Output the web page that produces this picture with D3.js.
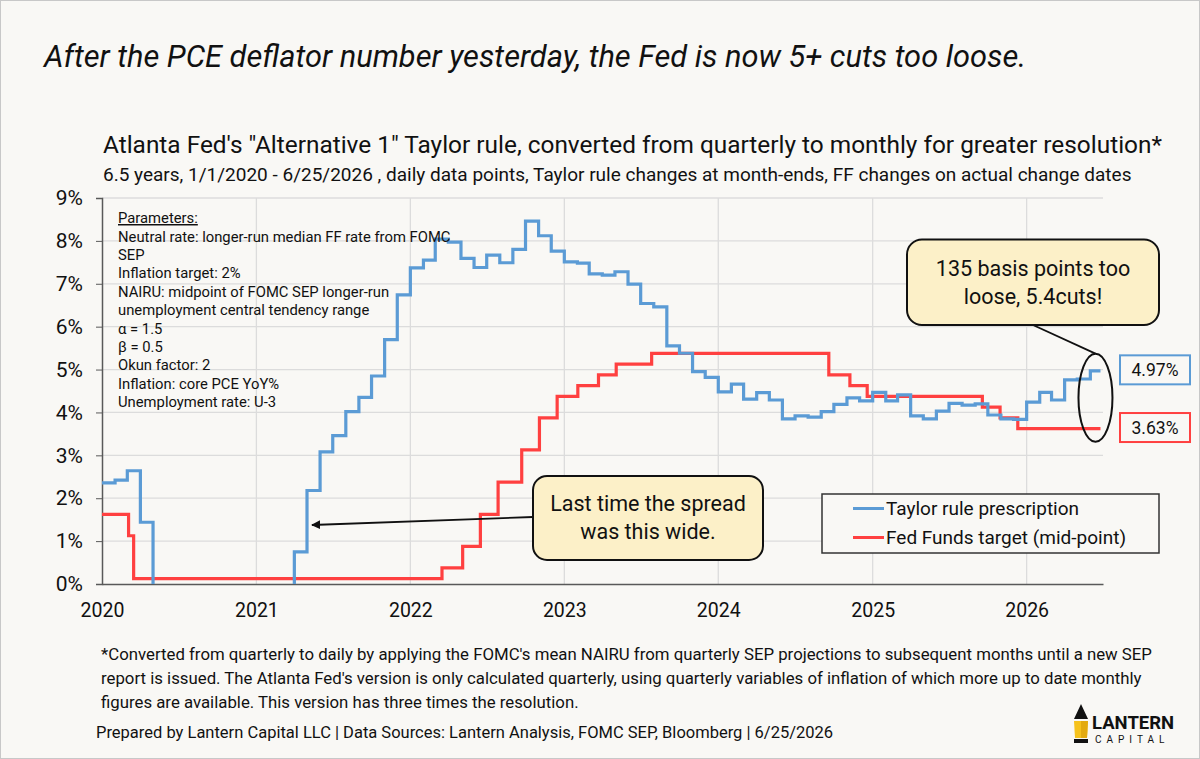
<!DOCTYPE html>
<html>
<head>
<meta charset="utf-8">
<script src="https://d3js.org/d3.v7.min.js"></script>
<style>
  body { margin: 0; background: #f9f8f5; }
  svg { font-family: Roboto, "Liberation Sans", sans-serif; }
</style>
</head>
<body>
<svg id="chart" width="1200" height="759"></svg>
<script>
// Taylor rule prescription, one value per month starting Jan 2020 (values below 0 are off-chart estimates)
const taylorStart = "2020-01-01";
const taylorEnd = "2026-06-25";
const taylorVals = [
  2.36, 2.42, 2.64, 1.44, -1.2, -1.5, -1.6, -1.5, -1.4, -1.3, -1.2, -1.1,
  -0.9, -0.7, -0.4, 0.75, 2.18, 3.08, 3.46, 4.02, 4.35, 4.85, 5.70, 6.74,
  7.37, 7.55, 8.04, 7.97, 7.59, 7.38, 7.67, 7.49, 7.80, 8.46, 8.12, 7.76,
  7.51, 7.48, 7.23, 7.20, 7.28, 6.99, 6.54, 6.46, 5.55, 5.38, 4.95, 4.82,
  4.48, 4.66, 4.31, 4.46, 4.29, 3.85, 3.92, 3.89, 4.02, 4.19, 4.34, 4.27,
  4.47, 4.27, 4.41, 3.92, 3.85, 4.03, 4.21, 4.17, 4.20, 3.94, 3.85, 3.84,
  4.24, 4.47, 4.29, 4.76, 4.78, 4.97
];

// Fed funds target mid-point, on actual change dates
const ffDates = ["2020-01-01","2020-03-04","2020-03-16","2022-03-17","2022-05-05","2022-06-16",
  "2022-07-28","2022-09-22","2022-11-03","2022-12-15","2023-02-02","2023-03-23","2023-05-04",
  "2023-07-27","2024-09-19","2024-11-08","2024-12-19","2025-09-18","2025-10-30","2025-12-11"];
const ffVals = [1.625, 1.125, 0.125, 0.375, 0.875, 1.625, 2.375, 3.125, 3.875, 4.375, 4.625,
  4.875, 5.125, 5.375, 4.875, 4.625, 4.375, 4.125, 3.875, 3.625];

const yTicks = [0, 1, 2, 3, 4, 5, 6, 7, 8, 9];
const seriesNames = ["Taylor rule prescription", "Fed Funds target (mid-point)"];
const seriesColors = ["#5b9bd5", "#ff4040"];
const lastLabels = ["4.97%", "3.63%"];

const paramLines = [
  "Neutral rate: longer-run median FF rate from FOMC",
  "SEP",
  "Inflation target: 2%",
  "NAIRU: midpoint of FOMC SEP longer-run",
  "unemployment central tendency range",
  "α = 1.5",
  "β = 0.5",
  "Okun factor: 2",
  "Inflation: core PCE YoY%",
  "Unemployment rate: U-3"
];
const footLines = [
  "*Converted from quarterly to daily by applying the FOMC's mean NAIRU from quarterly SEP projections to subsequent months until a new SEP",
  "report is issued.  The Atlanta Fed's version is only calculated quarterly, using quarterly variables of inflation of which more up to date monthly",
  "figures are available. This version has three times the resolution."
];

const parse = d3.utcParse("%Y-%m-%d");
const svg = d3.select("#chart");

// frame
svg.append("rect").attr("x", 0.5).attr("y", 0.5).attr("width", 1199).attr("height", 758)
  .attr("fill", "#f9f8f5").attr("stroke", "#c8c8c8");

// titles
svg.append("text").attr("x", 44).attr("y", 67)
  .attr("font-size", 30.8).attr("font-style", "italic").attr("fill", "#111")
  .text("After the PCE deflator number yesterday, the Fed is now 5+ cuts too loose.");
svg.append("text").attr("x", 103).attr("y", 153)
  .attr("font-size", 24.4).attr("fill", "#111")
  .text("Atlanta Fed's \"Alternative 1\" Taylor rule, converted from quarterly to monthly for greater resolution*");
svg.append("text").attr("x", 103).attr("y", 181)
  .attr("font-size", 19).attr("fill", "#111")
  .text("6.5 years, 1/1/2020 - 6/25/2026 , daily data points, Taylor rule changes at month-ends, FF changes on actual change dates");

// scales
const x = d3.scaleUtc().domain([parse("2020-01-01"), parse("2026-07-01")]).range([102, 1103]);
const y = d3.scaleLinear().domain([0, 9]).range([584, 198]);

// gridlines
const grid = svg.append("g").attr("stroke", "#dcdcdc").attr("stroke-width", 1.3);
grid.selectAll("line.h").data(yTicks.slice(1)).join("line").attr("class", "h")
  .attr("x1", 102).attr("x2", 1103).attr("y1", d => y(d)).attr("y2", d => y(d));
grid.selectAll("line.v").data(d3.utcYear.range(parse("2021-01-01"), parse("2026-02-01"))).join("line")
  .attr("class", "v")
  .attr("x1", d => x(d)).attr("x2", d => x(d)).attr("y1", 198).attr("y2", 584);

// axes
const yAxis = svg.append("g").attr("transform", "translate(102,0)")
  .call(d3.axisLeft(y).tickValues(yTicks).tickFormat(d => d + "%").tickSize(6).tickPadding(13));
yAxis.select(".domain").attr("stroke", "#595959").attr("stroke-width", 1.5);
yAxis.selectAll(".tick line").attr("stroke", "#595959");
yAxis.selectAll("text").attr("font-size", 21).attr("fill", "#111").attr("font-family", "Roboto");

const xAxis = svg.append("g").attr("transform", "translate(0,584)")
  .call(d3.axisBottom(x).ticks(d3.utcYear.every(1)).tickFormat(d3.utcFormat("%Y")).tickSize(0).tickPadding(19));
xAxis.select(".domain").attr("stroke", "#595959").attr("stroke-width", 1.5);
xAxis.selectAll("text").attr("font-size", 19.5).attr("fill", "#111").attr("font-family", "Roboto");

// clip to plot area
svg.append("clipPath").attr("id", "plotClip").append("rect")
  .attr("x", 102).attr("y", 190).attr("width", 1010).attr("height", 394);

// series data
const months = d3.utcMonth.range(parse(taylorStart), parse("2026-07-01"));
const taylor = taylorVals.map((v, i) => ({ date: months[i], value: v }));
taylor.push({ date: parse(taylorEnd), value: taylorVals[taylorVals.length - 1] });
const ff = ffVals.map((v, i) => ({ date: parse(ffDates[i]), value: v }));
ff.push({ date: parse(taylorEnd), value: ffVals[ffVals.length - 1] });

const line = d3.line().curve(d3.curveStepAfter).x(d => x(d.date)).y(d => y(d.value));
const plot = svg.append("g").attr("clip-path", "url(#plotClip)");
plot.append("path").datum(ff).attr("d", line).attr("fill", "none")
  .attr("stroke", seriesColors[1]).attr("stroke-width", 3.2);
plot.append("path").datum(taylor).attr("d", line).attr("fill", "none")
  .attr("stroke", seriesColors[0]).attr("stroke-width", 3.2);

// parameters block
const params = svg.append("g").attr("font-size", 14.8).attr("fill", "#111");
params.append("text").attr("x", 118).attr("y", 223).text("Parameters:")
  .attr("text-decoration", "underline");
params.selectAll("text.p").data(paramLines).join("text").attr("class", "p")
  .attr("x", 118).attr("y", (d, i) => 241.5 + i * 18.4).text(d => d);

// last-value labels
const lastVals = [taylorVals[taylorVals.length - 1], ffVals[ffVals.length - 1]];
lastVals.forEach((v, i) => {
  const cy = y(v) - 1;
  svg.append("rect").attr("x", 1120).attr("y", cy - 14.5).attr("width", 70).attr("height", 29)
    .attr("fill", "#f9f8f5").attr("stroke", seriesColors[i]).attr("stroke-width", 2);
  svg.append("text").attr("x", 1155).attr("y", cy + 6).attr("text-anchor", "middle")
    .attr("font-size", 17.5).attr("fill", "#111").text(lastLabels[i]);
});

// ellipse + callout "135 basis points"
const ex = x(parse(taylorEnd)) - 5;
const ey = (y(lastVals[0]) + y(lastVals[1])) / 2 - 2;
svg.append("ellipse").attr("cx", ex).attr("cy", ey).attr("rx", 17).attr("ry", 44)
  .attr("fill", "none").attr("stroke", "#111").attr("stroke-width", 2);
svg.append("line").attr("x1", 1033).attr("y1", 325).attr("x2", ex).attr("y2", ey - 44)
  .attr("stroke", "#111").attr("stroke-width", 1.8);
svg.append("rect").attr("x", 907).attr("y", 239.5).attr("width", 252).attr("height", 85.5)
  .attr("rx", 15).attr("fill", "#fcf0c8").attr("stroke", "#111").attr("stroke-width", 2);
svg.append("text").attr("x", 1033).attr("y", 276).attr("text-anchor", "middle")
  .attr("font-size", 21.5).attr("fill", "#111").text("135 basis points too");
svg.append("text").attr("x", 1033).attr("y", 304).attr("text-anchor", "middle")
  .attr("font-size", 21.5).attr("fill", "#111").text("loose, 5.4cuts!");

// callout "Last time the spread was this wide."
svg.append("defs").append("marker").attr("id", "arrow").attr("viewBox", "0 0 10 10")
  .attr("refX", 9).attr("refY", 5).attr("markerWidth", 5).attr("markerHeight", 5)
  .attr("orient", "auto-start-reverse")
  .append("path").attr("d", "M0,0 L10,5 L0,10 z").attr("fill", "#111");
svg.append("line").attr("x1", 533).attr("y1", 517).attr("x2", 312).attr("y2", 525)
  .attr("stroke", "#111").attr("stroke-width", 1.8).attr("marker-end", "url(#arrow)");
svg.append("rect").attr("x", 533).attr("y", 476).attr("width", 230).attr("height", 84)
  .attr("rx", 14).attr("fill", "#fcf0c8").attr("stroke", "#111").attr("stroke-width", 2);
svg.append("text").attr("x", 648).attr("y", 511).attr("text-anchor", "middle")
  .attr("font-size", 21.5).attr("fill", "#111").text("Last time the spread");
svg.append("text").attr("x", 648).attr("y", 539).attr("text-anchor", "middle")
  .attr("font-size", 21.5).attr("fill", "#111").text("was this wide.");

// legend
const legend = svg.append("g");
legend.append("rect").attr("x", 822).attr("y", 494).attr("width", 337).attr("height", 59)
  .attr("fill", "#f9f8f5").attr("stroke", "#333").attr("stroke-width", 1.5);
seriesNames.forEach((name, i) => {
  const ly = 508.5 + i * 29;
  legend.append("line").attr("x1", 853).attr("x2", 884).attr("y1", ly).attr("y2", ly)
    .attr("stroke", seriesColors[i]).attr("stroke-width", 3);
  legend.append("text").attr("x", 886).attr("y", ly + 6.5).attr("font-size", 19)
    .attr("fill", "#111").text(name);
});

// footnote
svg.append("g").attr("font-size", 16.8).attr("fill", "#111")
  .selectAll("text").data(footLines).join("text")
  .attr("x", 101).attr("y", (d, i) => 660 + i * 24).text(d => d);
svg.append("text").attr("x", 96).attr("y", 738).attr("font-size", 16.5).attr("fill", "#111")
  .text("Prepared by Lantern Capital LLC | Data Sources: Lantern Analysis, FOMC SEP, Bloomberg | 6/25/2026");

// logo
const logo = svg.append("g");
logo.append("path").attr("d", "M1081,704 L1074,719 L1088,719 Z").attr("fill", "#111");
logo.append("path").attr("d", "M1074,721 L1088,721 L1087,738 L1075,738 Z").attr("fill", "#f6c21c");
logo.append("path").attr("d", "M1081,721 L1088,721 L1087,738 L1081,738 Z").attr("fill", "#e3aa10");
logo.append("rect").attr("x", 1074).attr("y", 739).attr("width", 14).attr("height", 4).attr("fill", "#111");
logo.append("text").attr("x", 1092).attr("y", 729).attr("font-size", 18.5).attr("font-weight", "bold")
  .attr("fill", "#111").text("LANTERN");
logo.append("text").attr("x", 1095).attr("y", 743).attr("font-size", 10)
  .attr("letter-spacing", 5).attr("fill", "#111").text("CAPITAL");
</script>
</body>
</html>
